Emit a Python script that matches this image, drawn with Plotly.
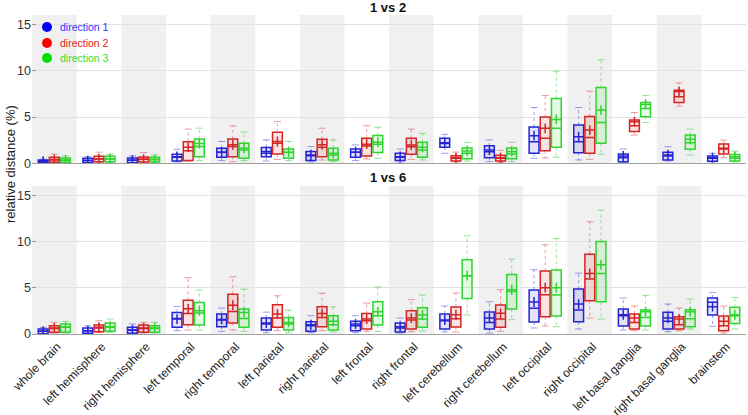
import plotly.graph_objects as go

regions = ["whole brain", "left hemisphere", "right hemisphere", "left temporal",
           "right temporal", "left parietal", "right parietal", "left frontal",
           "right frontal", "left cerebellum", "right cerebellum", "left occipital",
           "right occipital", "left basal ganglia", "right basal ganglia", "brainstem"]
directions = ["direction 1", "direction 2", "direction 3"]
panel_titles = ["1 vs 2", "1 vs 6"]
y_ticks = [0, 5, 10, 15]

# each tuple: (lower whisker, q1, median, q3, upper whisker, mean)
v12_dir1 = [(0.04, 0.07, 0.20, 0.36, 0.45, 0.22), (0.04, 0.07, 0.29, 0.54, 0.72, 0.30),
            (0.04, 0.07, 0.33, 0.58, 0.80, 0.33), (0.14, 0.25, 0.65, 0.98, 1.52, 0.72),
            (0.29, 0.65, 1.20, 1.63, 2.36, 1.20), (0.25, 0.72, 1.09, 1.70, 2.54, 1.27),
            (0.14, 0.29, 0.83, 1.27, 1.81, 0.90), (0.29, 0.65, 1.20, 1.56, 1.99, 1.20),
            (0.05, 0.29, 0.65, 1.08, 1.55, 0.72), (1.08, 1.73, 2.15, 2.70, 3.13, 2.23),
            (0.18, 0.61, 1.26, 1.90, 2.52, 1.44), (0.54, 1.08, 2.34, 3.92, 6.04, 2.99),
            (0.36, 1.15, 2.34, 4.14, 6.04, 2.88), (0.07, 0.18, 0.60, 1.00, 1.55, 0.79),
            (0.25, 0.36, 0.79, 1.19, 1.80, 0.90), (0.14, 0.22, 0.54, 0.79, 1.08, 0.61)]
v12_dir2 = [(0.07, 0.11, 0.36, 0.65, 1.00, 0.40), (0.10, 0.18, 0.47, 0.76, 1.20, 0.50),
            (0.07, 0.14, 0.43, 0.69, 1.16, 0.43), (0.22, 0.30, 1.35, 2.34, 3.70, 1.75),
            (0.18, 0.72, 1.81, 2.64, 4.06, 2.00), (0.43, 1.01, 2.17, 3.37, 4.53, 2.36),
            (0.36, 0.72, 1.74, 2.60, 3.80, 2.00), (0.47, 0.80, 1.88, 2.72, 4.06, 2.07),
            (0.43, 0.97, 1.80, 2.70, 3.70, 1.98), (0.14, 0.25, 0.54, 0.83, 1.22, 0.60),
            (0.10, 0.25, 0.54, 0.86, 1.40, 0.60), (0.58, 1.37, 2.70, 5.00, 7.34, 3.78),
            (0.43, 1.08, 2.80, 5.07, 7.80, 3.60), (3.06, 3.45, 4.06, 4.68, 5.50, 4.50),
            (6.19, 6.58, 7.19, 7.91, 8.70, 7.77), (0.61, 1.00, 1.62, 2.09, 2.52, 1.55)]
v12_dir3 = [(0.07, 0.11, 0.33, 0.58, 0.80, 0.36), (0.07, 0.18, 0.47, 0.76, 0.98, 0.50),
            (0.07, 0.14, 0.40, 0.65, 0.90, 0.40), (0.29, 0.72, 1.81, 2.64, 3.80, 2.14),
            (0.29, 0.54, 1.45, 2.17, 3.37, 1.63), (0.29, 0.54, 1.16, 1.56, 2.36, 1.20),
            (0.18, 0.36, 0.90, 1.63, 2.54, 1.09), (0.54, 1.16, 2.07, 3.00, 3.90, 2.28),
            (0.36, 0.65, 1.44, 2.27, 3.24, 1.73), (0.25, 0.50, 1.08, 1.65, 2.27, 1.33),
            (0.18, 0.50, 1.00, 1.65, 2.27, 1.26), (0.65, 1.73, 3.78, 7.00, 9.96, 4.75),
            (0.97, 2.16, 4.42, 8.20, 11.2, 5.76), (4.42, 5.04, 5.94, 6.58, 7.34, 6.37),
            (0.90, 1.51, 2.23, 3.06, 3.70, 2.59), (0.18, 0.25, 0.54, 0.94, 1.30, 0.72)]

v16_dir1 = [(0.00, 0.04, 0.29, 0.54, 0.72, 0.29), (0.04, 0.07, 0.36, 0.65, 0.90, 0.36),
            (0.04, 0.07, 0.40, 0.72, 1.08, 0.43), (0.36, 0.72, 1.69, 2.34, 2.99, 1.62),
            (0.29, 0.79, 1.51, 2.16, 2.80, 1.58), (0.14, 0.43, 1.08, 1.73, 2.37, 1.19),
            (0.14, 0.29, 0.90, 1.33, 1.98, 1.00), (0.14, 0.36, 0.90, 1.37, 1.98, 1.08),
            (0.10, 0.22, 0.65, 1.19, 1.73, 0.79), (0.22, 0.54, 1.44, 2.17, 3.03, 1.52),
            (0.10, 0.54, 1.26, 2.38, 3.50, 1.73), (0.65, 1.30, 2.78, 4.77, 6.97, 3.47),
            (0.54, 1.34, 2.60, 4.87, 6.60, 3.25), (0.43, 0.87, 1.99, 2.70, 3.90, 2.09),
            (0.25, 0.54, 1.37, 2.35, 3.25, 1.73), (0.83, 2.06, 3.43, 3.90, 4.51, 2.96)]
v16_dir2 = [(0.11, 0.18, 0.61, 0.90, 1.26, 0.65), (0.14, 0.25, 0.65, 0.97, 1.44, 0.72),
            (0.11, 0.18, 0.61, 0.97, 1.26, 0.65), (0.43, 1.00, 2.23, 3.67, 6.10, 2.73),
            (0.43, 1.19, 2.45, 4.32, 6.19, 3.13), (0.36, 0.72, 1.73, 3.17, 4.14, 2.16),
            (0.36, 0.79, 1.80, 2.95, 4.42, 2.23), (0.29, 0.54, 1.44, 2.23, 3.35, 1.62),
            (0.25, 0.54, 1.52, 2.53, 3.72, 1.73), (0.22, 0.76, 1.66, 2.92, 4.44, 2.09),
            (0.29, 0.72, 1.62, 3.14, 4.80, 2.24), (0.87, 1.88, 4.26, 6.82, 9.67, 5.02),
            (1.73, 3.61, 5.96, 8.66, 12.17, 6.57), (0.36, 0.54, 1.26, 2.17, 3.03, 1.73),
            (0.36, 0.54, 1.01, 1.88, 2.82, 1.62), (0.10, 0.36, 0.90, 1.95, 3.03, 1.37)]
v16_dir3 = [(0.11, 0.18, 0.72, 1.08, 1.37, 0.72), (0.18, 0.29, 0.72, 1.19, 1.62, 0.79),
            (0.11, 0.18, 0.61, 0.90, 1.26, 0.65), (0.43, 0.97, 2.27, 3.42, 4.75, 2.52),
            (0.29, 0.72, 1.69, 2.70, 4.86, 2.34), (0.14, 0.43, 1.08, 1.80, 2.59, 1.26),
            (0.22, 0.43, 1.00, 1.98, 2.95, 1.37), (0.29, 0.97, 1.98, 3.49, 5.11, 2.41),
            (0.32, 0.72, 1.62, 2.85, 4.22, 2.06), (2.06, 3.86, 6.32, 8.05, 10.65, 6.32),
            (1.55, 2.70, 4.62, 6.46, 8.12, 4.80), (0.79, 1.95, 4.22, 6.93, 10.36, 5.02),
            (1.62, 3.50, 6.57, 10.04, 13.43, 7.50), (0.43, 0.87, 1.80, 2.60, 4.19, 2.42),
            (0.54, 0.79, 1.66, 2.63, 3.79, 2.42), (0.54, 1.15, 1.98, 2.89, 3.97, 2.09)]

line_colors = ["#2424d4", "#d42424", "#30d430"]
fill_colors = ["rgba(40,40,220,0.13)", "rgba(220,40,40,0.13)", "rgba(40,220,40,0.13)"]
whisker_colors = ["rgba(60,60,220,0.5)", "rgba(220,60,60,0.5)", "rgba(50,200,50,0.5)"]
legend_dot = ["#0000ff", "#ff0000", "#00e000"]
legend_text = ["#3333ff", "#e02020", "#33dd33"]
offsets = [-0.25, 0.0, 0.25]
box_w = 0.22

fig = go.Figure()
panels = [(v12_dir1, v12_dir2, v12_dir3), (v16_dir1, v16_dir2, v16_dir3)]
axes = [("x", "y"), ("x2", "y2")]

for p, series in enumerate(panels):
    xa, ya = axes[p]
    for d, stats in enumerate(series):
        xs = [i + 1 + offsets[d] for i in range(len(regions))]
        lo = [s[0] for s in stats]
        q1 = [s[1] for s in stats]
        med = [s[2] for s in stats]
        q3 = [s[3] for s in stats]
        hi = [s[4] for s in stats]
        mean = [s[5] for s in stats]
        wx, wy = [], []
        for x, s in zip(xs, stats):
            wx += [x, x, None, x, x, None]
            wy += [s[3], s[4], None, s[1], s[0], None]
        fig.add_trace(go.Scatter(x=wx, y=wy, mode="lines",
                                 line=dict(color=whisker_colors[d], width=1, dash="dot"),
                                 xaxis=xa, yaxis=ya, showlegend=False, hoverinfo="skip"))
        fig.add_trace(go.Scatter(x=xs + xs, y=lo + hi, mode="markers",
                                 marker=dict(symbol="line-ew", size=5,
                                             line=dict(color=whisker_colors[d], width=1)),
                                 xaxis=xa, yaxis=ya, showlegend=False, hoverinfo="skip"))
        fig.add_trace(go.Box(x=xs, q1=q1, median=med, q3=q3, lowerfence=q1, upperfence=q3,
                             width=box_w, fillcolor=fill_colors[d],
                             line=dict(color=line_colors[d], width=1.5),
                             whiskerwidth=0, boxpoints=False,
                             xaxis=xa, yaxis=ya, showlegend=False, hoverinfo="skip"))
        fig.add_trace(go.Scatter(x=xs, y=mean, mode="markers",
                                 marker=dict(symbol="cross-thin", size=7,
                                             line=dict(color=line_colors[d], width=1.5)),
                                 xaxis=xa, yaxis=ya, showlegend=False, hoverinfo="skip"))

FIG_W, FIG_H = 748, 415
M_L, M_R, M_T, M_B = 32, 2, 15, 81
H_PLOT = FIG_H - M_T - M_B
W_PLOT = FIG_W - M_L - M_R

def py(ref_y):
    return (334 - ref_y) / H_PLOT

def px_(ref_x):
    return (ref_x - 32) / W_PLOT

shapes = []
for yref in ["y domain", "y2 domain"]:
    xref = "x" if yref == "y domain" else "x2"
    for i in range(0, len(regions), 2):
        shapes.append(dict(type="rect", xref=xref, yref=yref, x0=i + 0.5, x1=i + 1.5,
                           y0=0, y1=1, fillcolor="#f0f0f0", line=dict(width=0), layer="below"))

# manual legend (dots + coloured labels), top-left of the upper panel
legend_rows_px = [27, 43, 58]
annotations = []
for d, name in enumerate(directions):
    shapes.append(dict(type="circle", xref="paper", yref="paper",
                       xsizemode="pixel", ysizemode="pixel",
                       xanchor=px_(47), yanchor=py(legend_rows_px[d]),
                       x0=-5, x1=5, y0=-5, y1=5,
                       fillcolor=legend_dot[d], line=dict(width=0), layer="above"))
    annotations.append(dict(text=name, xref="paper", yref="paper", x=px_(57.5),
                            y=py(legend_rows_px[d]), xanchor="left", yanchor="middle",
                            showarrow=False, font=dict(size=10.5, color=legend_text[d])))

annotations += [
    dict(text="<b>" + panel_titles[0] + "</b>", xref="paper", yref="paper",
         x=px_(388), y=py(8), xanchor="center", yanchor="middle", showarrow=False,
         font=dict(size=13, color="#111111")),
    dict(text="<b>" + panel_titles[1] + "</b>", xref="paper", yref="paper",
         x=px_(388), y=py(177), xanchor="center", yanchor="middle", showarrow=False,
         font=dict(size=13, color="#111111")),
    dict(text="relative distance (%)", xref="paper", yref="paper",
         x=px_(10), y=py(164), xanchor="center", yanchor="middle", textangle=-90,
         showarrow=False, font=dict(size=13, color="#222222")),
]

axis_common = dict(range=[0.5, len(regions) + 0.5], showgrid=False, zeroline=False,
                   showline=True, linecolor="#a0a0a0", linewidth=1, ticks="",
                   automargin=False)
yaxis_common = dict(range=[0, 16.05], tickvals=y_ticks, gridcolor="#e2e2e2", gridwidth=1,
                    zeroline=False, showline=False, ticks="inside", ticklen=4,
                    tickcolor="#999999", tickfont=dict(size=12.5, color="#333333"),
                    automargin=False)

fig.update_layout(
    width=FIG_W, height=FIG_H,
    margin=dict(l=M_L, r=M_R, t=M_T, b=M_B, autoexpand=False),
    paper_bgcolor="white", plot_bgcolor="white",
    font=dict(family="Liberation Sans, Arial, sans-serif", color="#222222"),
    showlegend=False,
    hovermode=False,
    shapes=shapes,
    xaxis=dict(domain=[0, 1], anchor="y", showticklabels=False, **axis_common),
    xaxis2=dict(domain=[0, 1], anchor="y2", tickvals=list(range(1, len(regions) + 1)),
                ticktext=regions, tickangle=-45, tickfont=dict(size=12, color="#222222"),
                ticklabelshift=3, **axis_common),
    yaxis=dict(domain=[py(163.3), 1], anchor="x", **yaxis_common),
    yaxis2=dict(domain=[0, py(186)], anchor="x2", **yaxis_common),
    annotations=annotations,
)

# remove the browser's default 8 px page margin so the figure sits at the window origin
fig.write_html("out.html", config={"displayModeBar": False},
               post_script="document.body.style.margin='0px';")
